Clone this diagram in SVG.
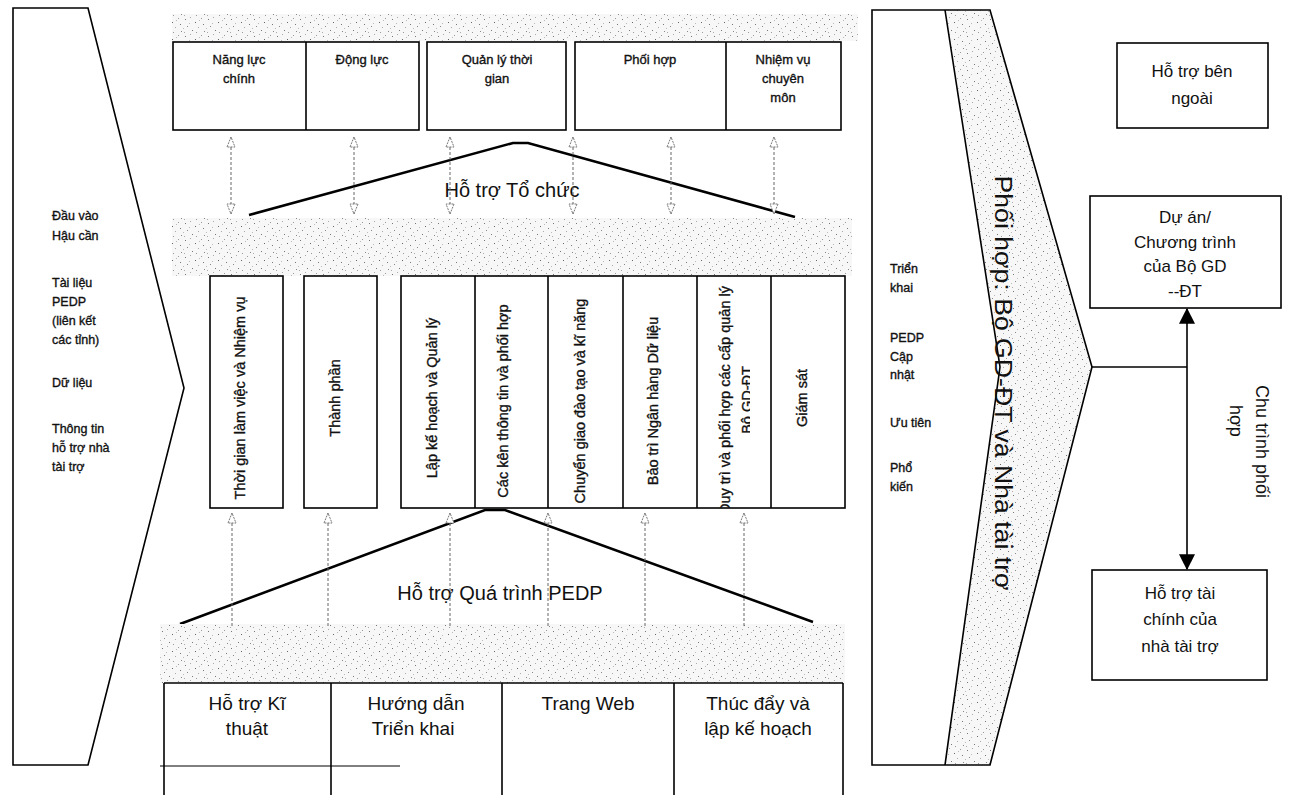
<svg xmlns="http://www.w3.org/2000/svg" width="1290" height="795" viewBox="0 0 1290 795">
<defs>
<pattern id="stip" width="23" height="17" patternUnits="userSpaceOnUse">
<rect width="23" height="17" fill="#f7f7f7"/>
<rect x="1" y="2" width="1" height="1" fill="#777"/>
<rect x="6" y="0" width="1" height="1" fill="#aaa"/>
<rect x="11" y="5" width="1" height="1" fill="#666"/>
<rect x="17" y="1" width="1" height="1" fill="#999"/>
<rect x="3" y="9" width="1" height="1" fill="#888"/>
<rect x="8" y="13" width="1" height="1" fill="#777"/>
<rect x="14" y="10" width="1" height="1" fill="#aaa"/>
<rect x="20" y="14" width="1" height="1" fill="#888"/>
<rect x="0" y="15" width="1" height="1" fill="#aaa"/>
<rect x="19" y="7" width="1" height="1" fill="#777"/>
<rect x="15" y="3" width="1" height="1" fill="#bbb"/>
<rect x="5" y="6" width="1" height="1" fill="#bbb"/>
<rect x="12" y="15" width="1" height="1" fill="#999"/>
<rect x="22" y="11" width="1" height="1" fill="#bbb"/>
</pattern>
<marker id="open" viewBox="0 0 12 10" refX="11" refY="5" markerWidth="12" markerHeight="10" markerUnits="userSpaceOnUse" orient="auto-start-reverse">
<path d="M1,1 L11,5 L1,9 Z" fill="#fff" stroke="#777" stroke-width="1" stroke-dasharray="2,1"/>
</marker>
<marker id="solid" viewBox="0 0 14 14" refX="13" refY="7" markerWidth="16" markerHeight="16" markerUnits="userSpaceOnUse" orient="auto-start-reverse">
<path d="M0,0 L14,7 L0,14 Z" fill="#000"/>
</marker>
<clipPath id="clipDuy"><rect x="697" y="276" width="53" height="232"/></clipPath>
<style>
.box{fill:#fff;stroke:#000;stroke-width:1.6}
.ln{stroke:#000;stroke-width:1.6;fill:none}
.roof{stroke:#000;stroke-width:2.5;fill:none}
.band{fill:url(#stip);stroke:none}
.dash{stroke:#666;stroke-width:1;stroke-dasharray:3,2;fill:none}
.t{font-family:"Liberation Sans",Arial,sans-serif;fill:#111}
.b{stroke:#111;stroke-width:0.35}
.s13{font-size:13px}
.s12{font-size:12.5px}
.s14{font-size:14.5px}
.s17{font-size:17px}
.s19{font-size:19px}
.s20{font-size:20px}
.c{text-anchor:middle}
</style>
</defs>
<rect width="1290" height="795" fill="#fff"/>

<g id="input-arrow">
<polygon points="13,8 88,8 184,388 88,765 13,765" class="ln" fill="#fff"/>
<text class="t b s12" x="52" y="220">Đầu vào</text>
<text class="t b s12" x="52" y="240">Hậu cần</text>
<text class="t b s12" x="52" y="287">Tài liệu</text>
<text class="t b s12" x="52" y="306">PEDP</text>
<text class="t b s12" x="52" y="325">(liên kết</text>
<text class="t b s12" x="52" y="344">các tỉnh)</text>
<text class="t b s12" x="52" y="387">Dữ liệu</text>
<text class="t b s12" x="52" y="433">Thông tin</text>
<text class="t b s12" x="52" y="452">hỗ trợ nhà</text>
<text class="t b s12" x="52" y="471">tài trợ</text>
</g>

<g id="top-band"><rect class="band" x="172" y="14" width="686" height="27"/></g>

<g id="top-boxes">
<rect class="box" x="173" y="42" width="246" height="88"/>
<line class="ln" x1="306" y1="42" x2="306" y2="130"/>
<rect class="box" x="427" y="42" width="139" height="88"/>
<rect class="box" x="575" y="42" width="266" height="88"/>
<line class="ln" x1="726" y1="42" x2="726" y2="130"/>
<text class="t b s13 c" x="239" y="64">Năng lực</text>
<text class="t b s13 c" x="239" y="83">chính</text>
<text class="t b s13 c" x="362" y="64">Động lực</text>
<text class="t b s13 c" x="497" y="64">Quản lý thời</text>
<text class="t b s13 c" x="497" y="83">gian</text>
<text class="t b s13 c" x="650" y="64">Phối hợp</text>
<text class="t b s13 c" x="783" y="64">Nhiệm vụ</text>
<text class="t b s13 c" x="783" y="83">chuyên</text>
<text class="t b s13 c" x="783" y="102">môn</text>
</g>

<g id="org-support">
<polyline class="roof" points="249,215 513,143 528,143 795,217"/>
<text class="t s20 c" x="512" y="197">Hỗ trợ Tổ chức</text>
</g>

<g id="middle-band"><rect class="band" x="172" y="218" width="680" height="58"/></g>

<g id="pillars">
<rect class="box" x="210" y="276" width="73" height="232"/>
<rect class="box" x="304" y="276" width="73" height="232"/>
<rect class="box" x="401" y="276" width="444" height="232"/>
<line class="ln" x1="475" y1="276" x2="475" y2="508"/>
<line class="ln" x1="548" y1="276" x2="548" y2="508"/>
<line class="ln" x1="623" y1="276" x2="623" y2="508"/>
<line class="ln" x1="697" y1="276" x2="697" y2="508"/>
<line class="ln" x1="771" y1="276" x2="771" y2="508"/>
<text class="t b s14 c" transform="translate(245,398) rotate(-90)">Thời gian làm việc và Nhiệm vụ</text>
<text class="t b s14 c" transform="translate(340,398) rotate(-90)">Thành phần</text>
<text class="t b s14 c" transform="translate(437,398) rotate(-90)">Lập kế hoạch và Quản lý</text>
<text class="t b s14 c" transform="translate(508,401) rotate(-90)">Các kên thông tin và phối hợp</text>
<text class="t b s14 c" transform="translate(585,401) rotate(-90)">Chuyển giao đào tạo và kĩ năng</text>
<text class="t b s14 c" transform="translate(658,401) rotate(-90)">Bảo trì Ngân hàng Dữ liệu</text>
<g clip-path="url(#clipDuy)">
<text class="t b s14 c" transform="translate(730,400) rotate(-90)">Duy trì và phối hợp các cấp quản lý</text>
<text class="t b s14 c" transform="translate(752,400) rotate(-90)">Bộ GD-ĐT</text>
</g>
<text class="t b s14 c" transform="translate(807,398) rotate(-90)">Giám sát</text>
</g>

<g id="process-support">
<polyline class="roof" points="180,624 485,510 505,510 813,622"/>
<text class="t s20 c" x="500" y="600">Hỗ trợ Quá trình PEDP</text>
</g>

<g id="bottom-band"><rect class="band" x="160" y="624" width="685" height="59"/></g>

<g id="bottom-boxes">
<line class="ln" x1="164" y1="683" x2="843" y2="683"/>
<line class="ln" x1="164" y1="683" x2="164" y2="795"/>
<line class="ln" x1="331" y1="683" x2="331" y2="795"/>
<line class="ln" x1="502" y1="683" x2="502" y2="795"/>
<line class="ln" x1="674" y1="683" x2="674" y2="795"/>
<line class="ln" x1="843" y1="683" x2="843" y2="795"/>
<line x1="160" y1="766" x2="400" y2="766" stroke="#000" stroke-width="1"/>
<text class="t s19 c" x="247" y="710">Hỗ trợ Kĩ</text>
<text class="t s19 c" x="247" y="735">thuật</text>
<text class="t s19 c" x="416" y="710">Hướng dẫn</text>
<text class="t s19 c" x="413" y="735">Triển khai</text>
<text class="t s19 c" x="588" y="710">Trang Web</text>
<text class="t s19 c" x="758" y="710">Thúc đẩy và</text>
<text class="t s19 c" x="758" y="735">lập kế hoạch</text>
</g>

<g id="coordination-chevron">
<polygon points="872,10 990,10 1092,367 990,765 872,765" fill="#fff" stroke="none"/>
<polygon class="band" points="945,10 990,10 1092,367 990,765 945,765 1000,367"/>
<polyline class="ln" points="945,10 1000,367 945,765"/>
<polygon class="ln" points="872,10 990,10 1092,367 990,765 872,765"/>
<text class="t b s12" x="890" y="273">Triển</text>
<text class="t b s12" x="890" y="292">khai</text>
<text class="t b s12" x="890" y="342">PEDP</text>
<text class="t b s12" x="890" y="361">Cập</text>
<text class="t b s12" x="890" y="379">nhật</text>
<text class="t b s12" x="890" y="427">Ưu tiên</text>
<text class="t b s12" x="890" y="472">Phổ</text>
<text class="t b s12" x="890" y="491">kiến</text>
<text class="t c" font-size="23" textLength="415" lengthAdjust="spacingAndGlyphs" transform="translate(995,383) rotate(90)">Phối hợp: Bộ GD-ĐT và Nhà tài trợ</text>
</g>

<g id="external-support">
<rect class="box" x="1117" y="43" width="151" height="85"/>
<text class="t s17 c" x="1192" y="77">Hỗ trợ bên</text>
<text class="t s17 c" x="1192" y="104">ngoài</text>
</g>
<g id="moet-program">
<rect class="box" x="1090" y="196" width="191" height="112"/>
<text class="t s17 c" x="1185" y="223">Dự án/</text>
<text class="t s17 c" x="1185" y="248">Chương trình</text>
<text class="t s17 c" x="1185" y="272">của Bộ GD</text>
<text class="t s17 c" x="1185" y="297">--ĐT</text>
</g>
<g id="donor-finance">
<rect class="box" x="1092" y="570" width="175" height="110"/>
<text class="t s17 c" x="1180" y="599">Hỗ trợ tài</text>
<text class="t s17 c" x="1180" y="625">chính của</text>
<text class="t s17 c" x="1180" y="652">nhà tài trợ</text>
</g>
<g id="cycle-label">
<text class="t" font-size="18" transform="translate(1256,385) rotate(90)">Chu trình phối</text>
<text class="t" font-size="18" transform="translate(1230,405) rotate(90)">hợp</text>
</g>

<g id="connectors">
<line class="dash" x1="231" y1="137" x2="231" y2="214" marker-start="url(#open)" marker-end="url(#open)"/>
<line class="dash" x1="354" y1="137" x2="354" y2="214" marker-start="url(#open)" marker-end="url(#open)"/>
<line class="dash" x1="450" y1="137" x2="450" y2="214" marker-start="url(#open)" marker-end="url(#open)"/>
<line class="dash" x1="573" y1="137" x2="573" y2="214" marker-start="url(#open)" marker-end="url(#open)"/>
<line class="dash" x1="671" y1="137" x2="671" y2="214" marker-start="url(#open)" marker-end="url(#open)"/>
<line class="dash" x1="774" y1="137" x2="774" y2="214" marker-start="url(#open)" marker-end="url(#open)"/>
<line class="dash" x1="232" y1="626" x2="232" y2="513" marker-end="url(#open)"/>
<line class="dash" x1="328" y1="626" x2="328" y2="513" marker-end="url(#open)"/>
<line class="dash" x1="450" y1="626" x2="450" y2="513" marker-end="url(#open)"/>
<line class="dash" x1="548" y1="626" x2="548" y2="513" marker-end="url(#open)"/>
<line class="dash" x1="645" y1="626" x2="645" y2="513" marker-end="url(#open)"/>
<line class="dash" x1="744" y1="626" x2="744" y2="513" marker-end="url(#open)"/>
<line class="ln" x1="1092" y1="367" x2="1187" y2="367"/>
<line class="ln" x1="1187" y1="309" x2="1187" y2="569" marker-start="url(#solid)" marker-end="url(#solid)"/>
</g>
</svg>
